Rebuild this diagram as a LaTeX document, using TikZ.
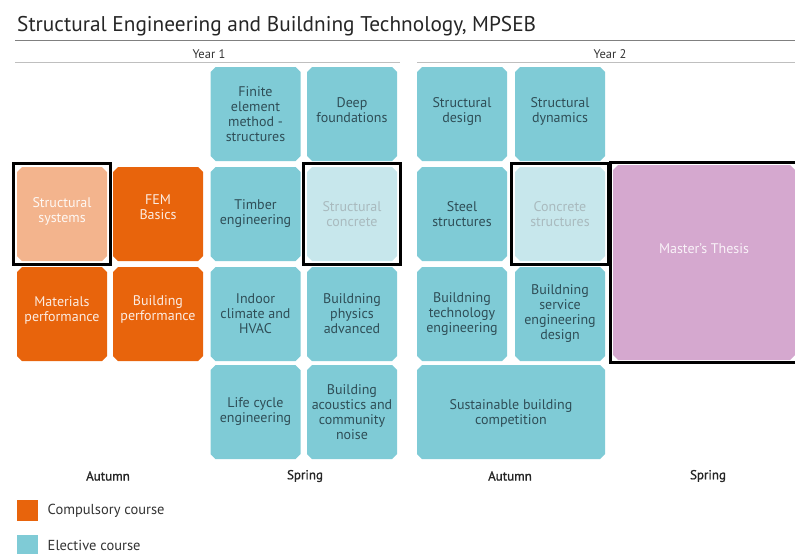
\documentclass[tikz,border=0pt]{standalone}
\usepackage{fontspec}
\setmainfont{PT Sans}
\newfontfamily\termfont[FakeBold=1.2]{PT Sans}
\usetikzlibrary{positioning, fit, shapes.misc}

\definecolor{elective}{HTML}{7FCBD6}
\definecolor{electivetext}{HTML}{2F4E57}
\definecolor{paleelective}{HTML}{C7E7EC}
\definecolor{paletext}{HTML}{A9BABE}
\definecolor{compulsory}{HTML}{E8640C}
\definecolor{palecompulsory}{HTML}{F3B48D}
\definecolor{thesis}{HTML}{D5A8CF}
\definecolor{headtext}{HTML}{333333}

\begin{document}
\begin{tikzpicture}[x=1pt, y=-1pt]
    \tikzstyle{course} = [chamfered rectangle, chamfered rectangle xsep=2.5pt, chamfered rectangle ysep=2.5pt, minimum width=90pt, minimum height=94pt, inner sep=1pt, align=center, font=\fontsize{14}{15}\selectfont]
    \tikzstyle{elect} = [course, fill=elective, text=electivetext]
    \tikzstyle{pale} = [course, fill=paleelective, text=paletext]
    \tikzstyle{comp} = [course, fill=compulsory, text=white!88!compulsory]
    \tikzstyle{frame} = [draw=black, line width=3pt, inner sep=3.5pt]
    \tikzstyle{head} = [text=headtext, font=\fontsize{12.5}{14}\selectfont]
    \tikzstyle{term} = [text=black!85, font=\termfont\fontsize{13}{15}\selectfont]
    \tikzstyle{legbox} = [minimum size=21pt, inner sep=0pt]
    \useasboundingbox (0,0) rectangle (795,554);

    % title and years
    \node [anchor=base west, inner sep=0pt, text=black!85, font=\fontsize{21.3}{26}\selectfont] (title) at (17,31) {Structural Engineering and Buildning Technology, MPSEB};
    \coordinate (tl) at (15,40);
    \coordinate (tr) at (795,40);
    \draw [black!50] (tl) -- (tr);
    \node [head] (year1) at (209,54) {Year 1};
    \node [head] (year2) at (610,54) {Year 2};
    \coordinate (y1l) at (15,62);
    \coordinate (y1r) at (400,62);
    \coordinate (y2l) at (417,62);
    \coordinate (y2r) at (795,62);
    \draw [black!25] (y1l) -- (y1r);
    \draw [black!25] (y2l) -- (y2r);

    % year 1, autumn
    \node [course, fill=palecompulsory, text=white!90!palecompulsory, text depth=8pt] (ss) at (62,214) {Structural\\systems};
    \node [comp, text depth=14pt] (fem) at (158,214) {FEM\\Basics};
    \node [comp, text depth=10pt] (mat) at (62,314) {Materials\\performance};
    \node [comp, text depth=12pt] (bperf) at (158,314) {Building\\performance};

    % year 1, spring
    \node [elect, text depth=-8pt] (fe) at (255.5,114) {Finite\\element\\method -\\structures};
    \node [elect, text depth=8pt] (deep) at (352,114) {Deep\\foundations};
    \node [elect] (timber) at (255.5,214) {Timber\\engineering};
    \node [pale] (sconc) at (352,214) {Structural\\concrete};
    \node [elect] (indoor) at (255.5,314) {Indoor\\climate and\\HVAC};
    \node [elect] (bphys) at (352,314) {Buildning\\physics\\advanced};
    \node [elect] (lca) at (255.5,412) {Life cycle\\engineering};
    \node [elect] (acou) at (352,412) {Building\\acoustics and\\community\\noise};

    % year 2, autumn
    \node [elect, text depth=8pt] (sdes) at (462,114) {Structural\\design};
    \node [elect, text depth=8pt] (sdyn) at (560,114) {Structural\\dynamics};
    \node [elect] (steel) at (462,214) {Steel\\structures};
    \node [pale] (cstr) at (560,214) {Concrete\\structures};
    \node [elect] (btech) at (462,314) {Buildning\\technology\\engineering};
    \node [elect] (bserv) at (560,314) {Buildning\\service\\engineering\\design};
    \node [elect, minimum width=188pt, text depth=-4pt] (comp) at (511,412) {Sustainable building\\competition};

    % year 2, spring
    \node [course, fill=thesis, text=white!85!thesis, minimum width=182pt, minimum height=195pt, text depth=28pt] (thesis) at (704,262.5) {Master's Thesis};

    % highlighted courses
    \node [frame, fit=(ss)] (ssframe) {};
    \node [frame, fit=(sconc)] (sconcframe) {};
    \node [frame, fit=(cstr)] (cstrframe) {};
    \node [frame, inner sep=2.5pt, fit=(thesis)] (thesisframe) {};

    % terms
    \node [term] (aut1) at (108,476) {Autumn};
    \node [term] (spr1) at (305,476) {Spring};
    \node [term] (aut2) at (510,476) {Autumn};
    \node [term] (spr2) at (708,476) {Spring};

    % legend
    \node [legbox, fill=compulsory] (compsq) at (27.5,510.5) {};
    \node [legbox, fill=elective] (electsq) at (27.5,545.5) {};
    \node [right=6pt of compsq, text=headtext, font=\fontsize{14.5}{16}\selectfont] (complab) {Compulsory course};
    \node [right=6pt of electsq, text=headtext, font=\fontsize{14.5}{16}\selectfont] (electlab) {Elective course};
\end{tikzpicture}
\end{document}
